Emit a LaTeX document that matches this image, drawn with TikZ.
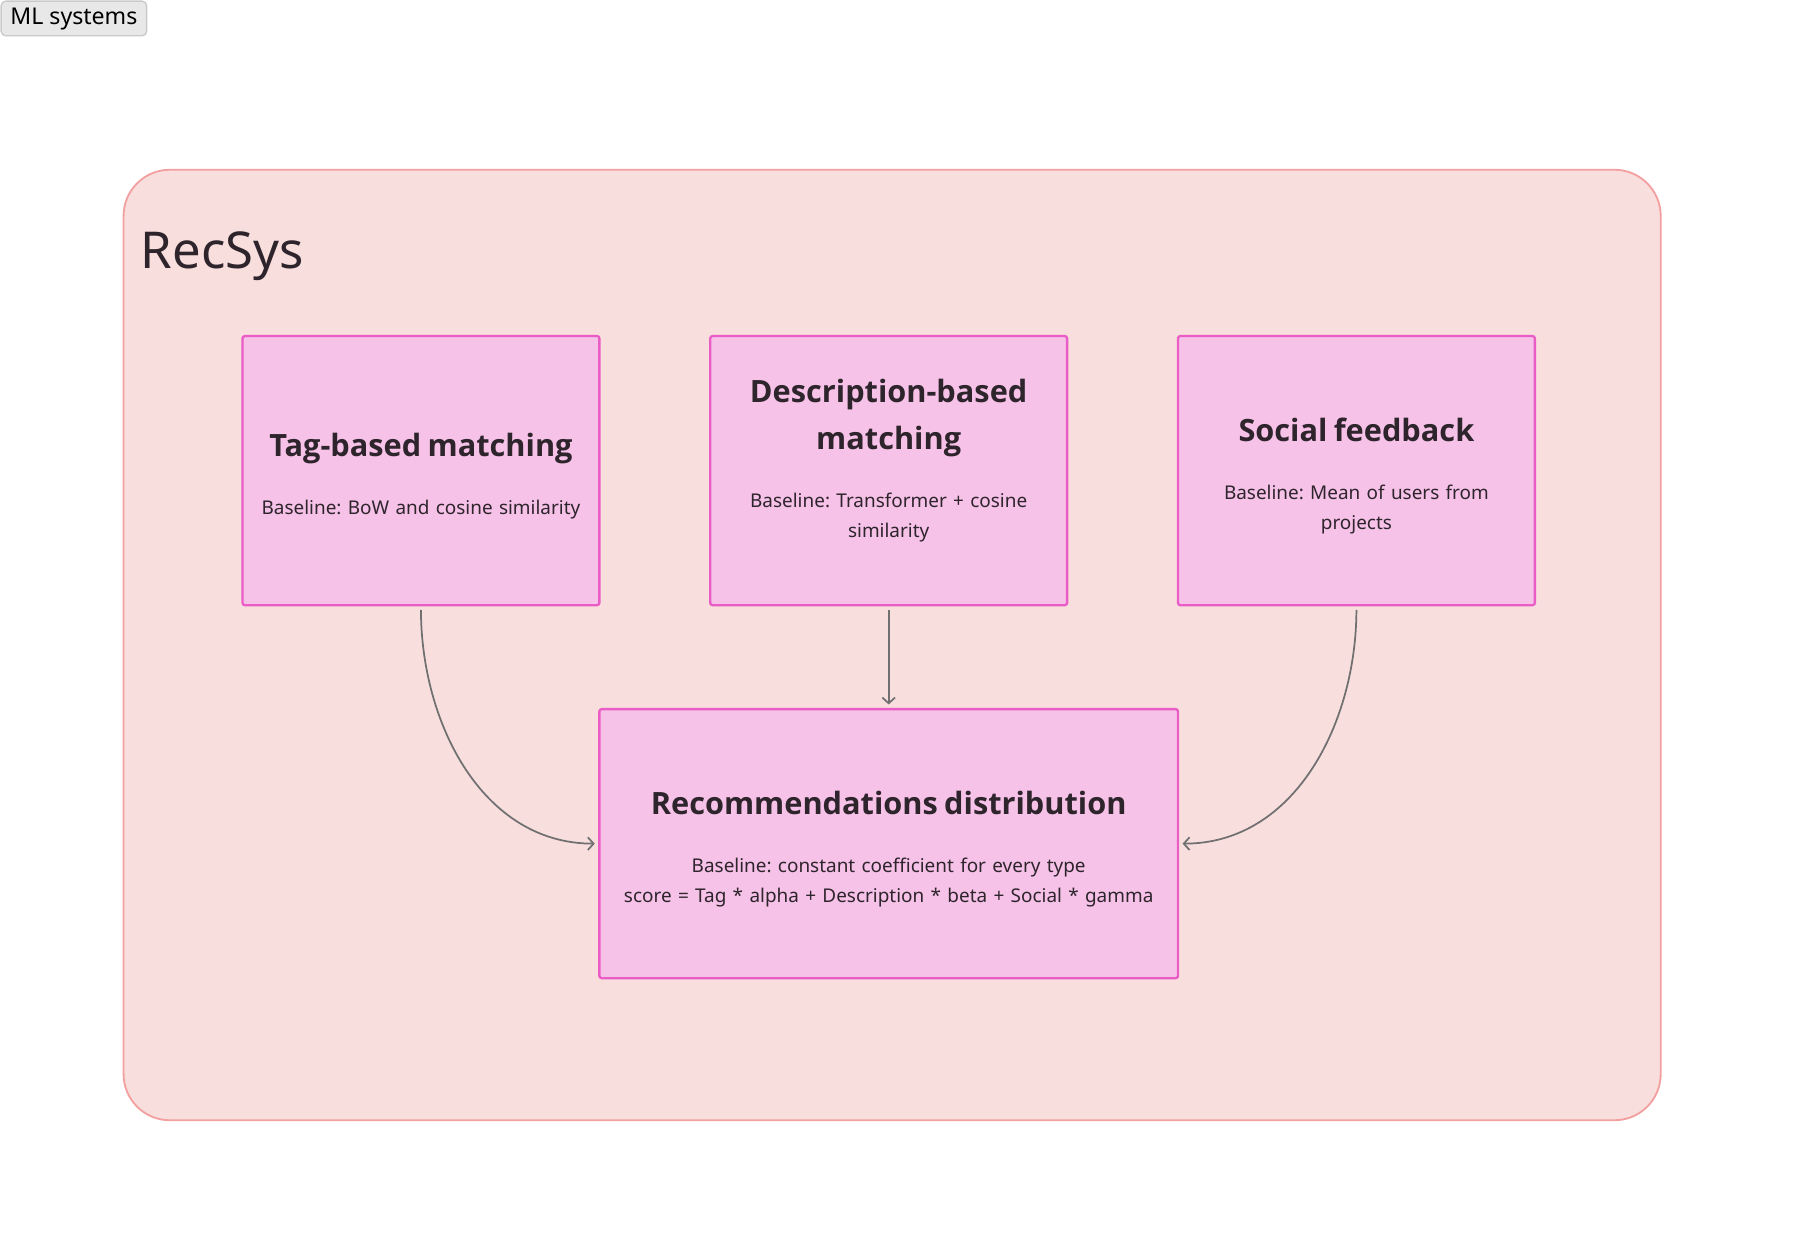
\documentclass[tikz,border=0pt]{standalone}
\usepackage{fontspec}
\setmainfont{Noto Sans}
\newfontfamily\headfont{Open Sans}
\usepackage{tikz}
\usetikzlibrary{positioning}
\usetikzlibrary{arrows.meta}
\frenchspacing

\definecolor{framefill}{RGB}{249,222,222}
\definecolor{frameline}{RGB}{242,160,160}
\definecolor{stagefill}{RGB}{246,194,232}
\definecolor{stageline}{RGB}{234,92,198}
\definecolor{ink}{RGB}{46,36,44}
\definecolor{wire}{RGB}{112,112,112}
\definecolor{tabfill}{RGB}{232,232,232}
\definecolor{tabline}{RGB}{202,202,202}

\newcommand{\stagetitle}[1]{{\headfont\fontsize{13.3}{20.5}\selectfont\bfseries #1\par}\vspace{12pt}}

\tikzset{
  stage/.style={draw=stageline,fill=stagefill,line width=1pt,rounded corners=1pt,
    minimum width=154.5pt,minimum height=116.5pt,text width=150pt,align=center,
    inner sep=0pt,text=ink,font=\fontsize{8.2}{13}\selectfont},
  flow/.style={draw=wire,line width=0.75pt,shorten <=1.5pt,shorten >=1.5pt,
    -{Straight Barb[length=2.5pt,width=5.5pt]}},
}

\begin{document}
\begin{tikzpicture}[x=0.5pt,y=-0.5pt]
        \useasboundingbox (0,0) rectangle (1569,1081);
        \node[draw=tabline,fill=tabfill,rounded corners=2pt,line width=0.6pt,
              minimum width=63pt,minimum height=15pt,text height=5.5pt,text depth=0pt,
              font=\fontsize{10}{12}\selectfont] (menu) at (64,16) {ML systems};
        \draw[draw=frameline,fill=framefill,line width=0.8pt,rounded corners=20pt] (107,147) rectangle (1438,970);
        \node[anchor=west,text=ink,font=\fontsize{22}{26}\selectfont] (recsys) at (115,222) {RecSys};
        \node[stage] (tag) at (364.5,407.5) {\stagetitle{Tag-based matching}Baseline: BoW and cosine similarity\par\vspace{-5pt}};
        \node[stage] (desc) at (769.5,407.5) {\stagetitle{Description-based\\matching}Baseline: Transformer + cosine\\similarity\par\vspace{8.5pt}};
        \node[stage] (social) at (1174.5,407.5) {\stagetitle{Social feedback}Baseline: Mean of users from\\projects\par\vspace{-5pt}};
        \node[stage,minimum width=250.5pt,text width=245pt] (dist) at (769.5,730.5) {\stagetitle{Recommendations distribution}Baseline: constant coefficient for every type\\score = Tag * alpha + Description * beta + Social * gamma\par\vspace{-5pt}};
        \draw[flow] (tag.south) to[out=-90,in=180] (dist.west);
        \draw[flow] (desc.south) -- (dist.north);
        \draw[flow] (social.south) to[out=-90,in=0] (dist.east);
    \end{tikzpicture}
\end{document}
